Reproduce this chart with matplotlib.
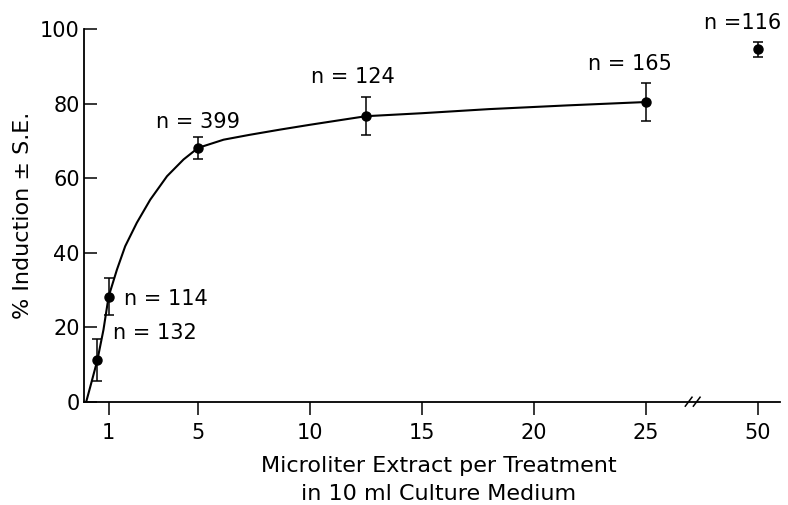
import matplotlib
matplotlib.use('Agg')
import matplotlib.pyplot as plt
import numpy as np

# measured points (microliter extract, % induction, S.E., n)
dose = [0.5, 1, 5, 12.5, 25, 50]
induction = [11.2, 28.2, 68.1, 76.6, 80.4, 94.5]
se = [5.6, 4.9, 3.0, 5.1, 5.0, 2.1]
n_labels = ['n = 132', 'n = 114', 'n = 399', 'n = 124', 'n = 165', 'n =116']

# hand-drawn curve
curve_x = [0, 0.18, 0.5, 0.77, 1, 1.37, 1.74, 2.26, 2.86, 3.61, 4.35, 5, 6.14, 7.3, 8.66, 10, 11.3, 12.5, 15, 18, 21.5, 25]
curve_y = [0, 4.0, 11.2, 19.3, 28.2, 35.4, 41.7, 48.0, 54.2, 60.5, 65.0, 68.1, 70.3, 71.6, 73.0, 74.3, 75.5, 76.6, 77.4, 78.5, 79.5, 80.4]

xticks = [1, 5, 10, 15, 20, 25, 50]

# broken axis: everything past 25 is squeezed, 50 sits here
BREAK_AT = 27.1
POS_50 = 30.0


def xpos(v):
    return v if v <= 25 else POS_50 + (v - 50)


fig = plt.figure(figsize=(7.88, 5.05), dpi=100)
ax = fig.add_axes([0.1066, 0.2046, 0.8832, 0.738])

ax.plot(curve_x, curve_y, color='black', lw=1.5, solid_joinstyle='round')
xs = [xpos(v) for v in dose]
ax.errorbar(xs, induction, yerr=se, fmt='o', color='black', ms=6.5,
            elinewidth=1.1, capsize=3.6, capthick=1.1, clip_on=False, zorder=3)

# n annotations
ann_pos = [(1.18, 18.4, 'left'), (1.7, 27.5, 'left'), (5.0, 75.0, 'center'),
           (11.9, 87.0, 'center'), (24.3, 90.5, 'center'), (31.05, 101.5, 'right')]
for lab, (tx, ty, ha) in zip(n_labels, ann_pos):
    ax.text(tx, ty, lab, fontsize=15, ha=ha, va='center', clip_on=False)

ax.set_xlim(-0.1, 31.0)
ax.set_ylim(0, 100)
ax.set_xticks([xpos(v) for v in xticks])
ax.set_xticklabels([str(v) for v in xticks])
ax.set_yticks([0, 20, 40, 60, 80, 100])

ax.spines['top'].set_visible(False)
ax.spines['right'].set_visible(False)
ax.spines['left'].set_linewidth(1.3)
ax.spines['bottom'].set_linewidth(1.3)
ax.tick_params(axis='x', direction='out', length=9, width=1.1, labelsize=15, pad=6)
ax.tick_params(axis='y', direction='in', length=9, width=1.1, labelsize=15, pad=3)

# break marks on the x axis
for dx in (-0.18, 0.18):
    ax.plot([BREAK_AT + dx - 0.15, BREAK_AT + dx + 0.15], [-1.2, 1.2],
            color='black', lw=1.1, clip_on=False)

ax.set_ylabel('% Induction ± S.E.', fontsize=16)
ax.yaxis.set_label_coords(-0.073, 0.5)
ax.set_xlabel('Microliter Extract per Treatment\nin 10 ml Culture Medium',
              fontsize=16, linespacing=1.5)
ax.xaxis.set_label_coords(0.51, -0.145)

plt.savefig('out.png', dpi=100)
